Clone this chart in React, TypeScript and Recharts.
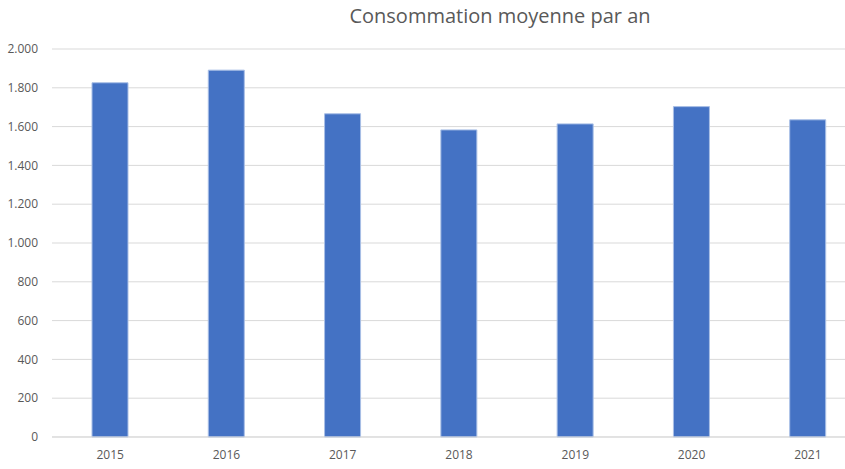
import { Bar, BarChart, XAxis, YAxis, CartesianGrid } from 'recharts';

const years = ['2015', '2016', '2017', '2018', '2019', '2020', '2021'];
const consommation = [1826, 1891, 1666, 1583, 1614, 1703, 1635];
const yTicks = [0, 200, 400, 600, 800, 1000, 1200, 1400, 1600, 1800, 2000];

const data = years.map((year, i) => ({ year, value: consommation[i] }));

const fmt = (v: number) => v.toLocaleString('de-DE');

const App = () => {
    return (
        <div style={{ position: 'fixed', left: 0, top: 0, width: 845, height: 469, overflow: 'hidden', background: '#fff' }}>
            <div style={{ position: 'absolute', left: 0, top: 2, textAlign: 'center', paddingLeft: 155, width: 690,
                fontFamily: 'Open Sans', fontSize: 20, color: '#595959' }}>
                Consommation moyenne par an
            </div>
            <BarChart width={870} height={469} data={data} margin={{ top: 49, right: 4, bottom: 0, left: 0 }}>
                <CartesianGrid vertical={false} stroke="#d9d9d9" />
                <XAxis dataKey="year" height={32} axisLine={{ stroke: '#d9d9d9' }} tickLine={false} tickSize={0} tickMargin={13}
                    tick={{ fill: '#595959', fontSize: 12, fontFamily: 'Open Sans' }} />
                <YAxis width={52} domain={[0, 2000]} ticks={yTicks} tickFormatter={fmt} axisLine={false} tickLine={false}
                    tickSize={0} tickMargin={14} tick={{ fill: '#595959', fontSize: 12, fontFamily: 'Open Sans' }} />
                <Bar dataKey="value" fill="#4472C4" stroke="#A9BFE6" strokeWidth={1} barSize={36} isAnimationActive={false} />
            </BarChart>
        </div>
    );
};

export default App;
